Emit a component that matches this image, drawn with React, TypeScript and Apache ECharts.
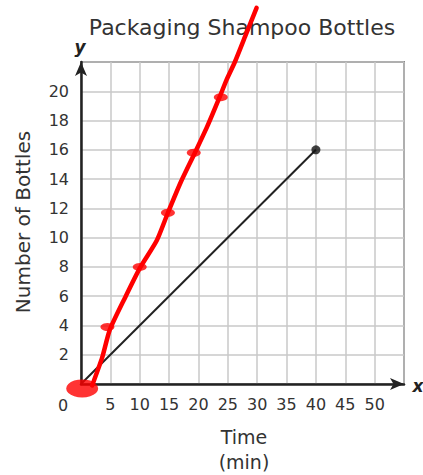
import React, { useEffect, useRef } from "react";
import * as echarts from "echarts";

const xTicks = [0, 5, 10, 15, 20, 25, 30, 35, 40, 45, 50, 55];
const yTicks = [0, 2, 4, 6, 8, 10, 12, 14, 16, 18, 20, 22];
const blackLine: [number, number][] = [[0, 0], [40, 16]];
const blackDot: [number, number][] = [[40, 16]];
const redPath: [number, number][] = [
  [1.9, -0.1], [3.6, 1.8], [4.9, 3.7], [7.5, 5.9], [10, 7.9], [12.9, 9.8],
  [14.8, 11.7], [17, 13.8], [19.4, 15.8], [21.5, 17.6], [23.6, 19.6],
  [24.8, 20.8], [26.2, 22], [28, 23.8], [29.9, 25.7],
];
const redMarks: [number, number][] = [[4.5, 3.9], [10, 8], [14.8, 11.7], [19.2, 15.8], [23.8, 19.6]];
const redBlob: [number, number][] = [[0.2, -0.3]];

const FONT = "DejaVu Sans";

export default function App() {
  const ref = useRef<HTMLDivElement>(null);
  useEffect(() => {
    const chart = echarts.init(ref.current!, null, { renderer: "svg" });
    chart.setOption({
      animation: false,
      backgroundColor: "#ffffff",
      grid: { left: 81, top: 62, right: 19, bottom: 91, show: true, borderColor: "#333", borderWidth: 1.5, backgroundColor: "transparent" },
      xAxis: {
        type: "value", min: xTicks[0], max: xTicks[xTicks.length - 1], interval: 5,
        axisLine: { show: true, lineStyle: { color: "#222", width: 2.5 }, symbol: ["none", "arrow"], symbolSize: [9, 14] },
        axisTick: { show: false },
        splitLine: { show: true, lineStyle: { color: "#c8c8c8", width: 1.5 } },
        axisLabel: {
          color: "#333", fontSize: 16, fontFamily: FONT, margin: 12,
          formatter: (v: number) => (v === 0 || v === 55 ? "" : String(v)),
        },
      },
      yAxis: {
        type: "value", min: yTicks[0], max: yTicks[yTicks.length - 1], interval: 2,
        axisLine: { show: true, lineStyle: { color: "#222", width: 2.5 }, symbol: ["none", "arrow"], symbolSize: [9, 14] },
        axisTick: { show: false },
        splitLine: { show: true, lineStyle: { color: "#c8c8c8", width: 1.5 } },
        axisLabel: {
          color: "#333", fontSize: 16, fontFamily: FONT, margin: 12,
          formatter: (v: number) => (v === 0 || v === 22 ? "" : String(v)),
        },
      },
      series: [
        {
          type: "line", data: blackLine, showSymbol: false, clip: false,
          lineStyle: { color: "#222", width: 2 }, z: 3,
        },
        {
          type: "scatter", data: blackDot, symbol: "circle", symbolSize: 9,
          itemStyle: { color: "#111" }, z: 4,
        },
        {
          type: "line", data: redPath, showSymbol: false, clip: false, smooth: 0.2,
          lineStyle: { color: "#ff0000", width: 4.5, cap: "round", join: "round" }, z: 5,
        },
        {
          type: "scatter", data: redMarks, symbol: "circle", symbolSize: [14, 8], clip: false,
          itemStyle: { color: "#ff0000" }, z: 6,
        },
        {
          type: "scatter", data: redBlob, symbol: "circle", symbolSize: [32, 18], clip: false,
          itemStyle: { color: "#ff0000" }, z: 6,
        },
      ],
      graphic: [
        { type: "text", x: 242, y: 27, style: { text: "Packaging Shampoo Bottles", fontSize: 22, fontFamily: FONT, fill: "#333", align: "center", verticalAlign: "middle" } },
        { type: "text", x: 80, y: 47, style: { text: "y", fontSize: 17, fontStyle: "italic", fontWeight: "bold", fontFamily: FONT, fill: "#222", align: "center", verticalAlign: "middle" } },
        { type: "text", x: 418, y: 386, style: { text: "x", fontSize: 17, fontStyle: "italic", fontWeight: "bold", fontFamily: FONT, fill: "#222", align: "center", verticalAlign: "middle" } },
        { type: "text", x: 63, y: 405, style: { text: "0", fontSize: 16, fontFamily: FONT, fill: "#333", align: "center", verticalAlign: "middle" } },
        { type: "text", x: 244, y: 437, style: { text: "Time", fontSize: 19, fontFamily: FONT, fill: "#333", align: "center", verticalAlign: "middle" } },
        { type: "text", x: 244, y: 462, style: { text: "(min)", fontSize: 19, fontFamily: FONT, fill: "#333", align: "center", verticalAlign: "middle" } },
        { type: "text", x: 23, y: 222, rotation: Math.PI / 2, style: { text: "Number of Bottles", fontSize: 20, fontFamily: FONT, fill: "#333", align: "center", verticalAlign: "middle" } },
      ],
    });
    return () => chart.dispose();
  }, []);
  return <div ref={ref} style={{ width: 423, height: 475, position: "absolute", left: 0, top: 0 }} />;
}
